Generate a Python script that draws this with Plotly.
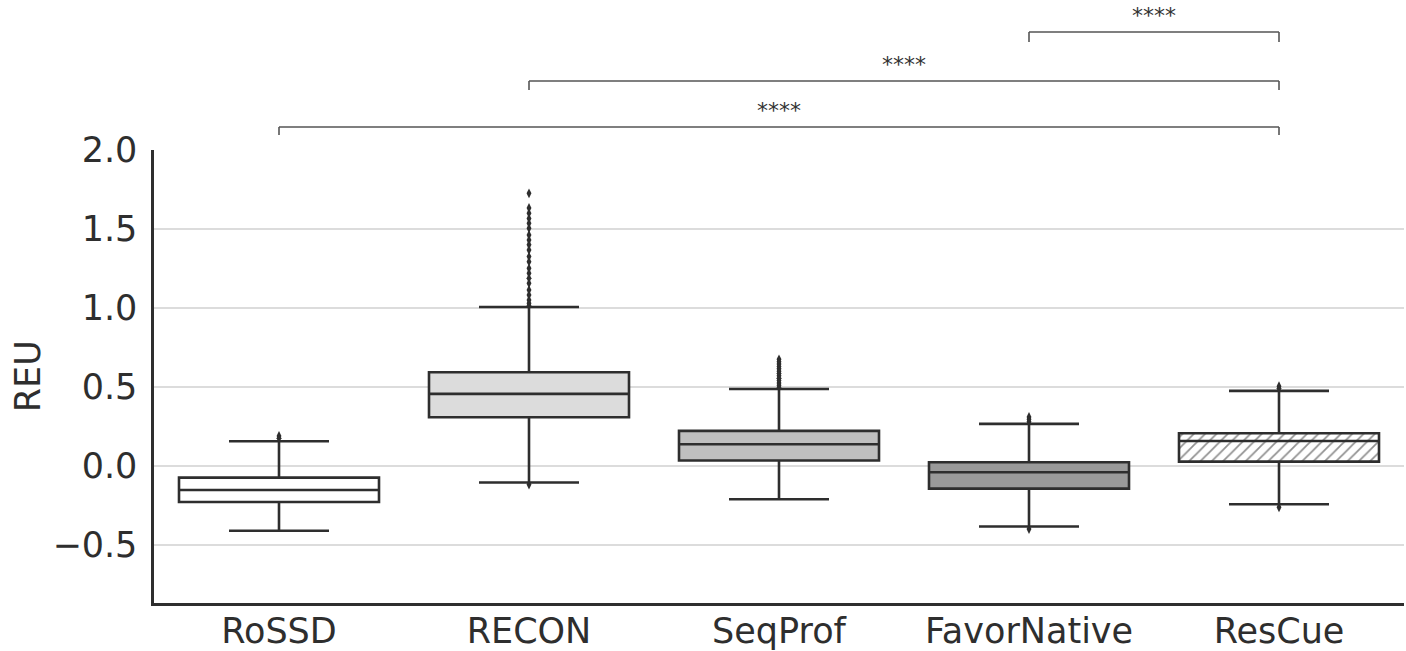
import plotly.graph_objects as go

# ---------------- data ----------------
categories = ["RoSSD", "RECON", "SeqProf", "FavorNative", "ResCue"]
q1 = [-0.229, 0.308, 0.034, -0.144, 0.027]
median = [-0.153, 0.456, 0.137, -0.040, 0.158]
q3 = [-0.074, 0.593, 0.222, 0.023, 0.207]
lower_whisker = [-0.411, -0.105, -0.211, -0.384, -0.243]
upper_whisker = [0.156, 1.006, 0.487, 0.266, 0.475]

outliers = {
    "RoSSD": [0.19, 0.175],
    "RECON": [1.726, 1.633, 1.60, 1.567, 1.536, 1.504, 1.462, 1.43, 1.40, 1.367,
              1.325, 1.293, 1.251, 1.22, 1.188, 1.156, 1.114, 1.082, 1.05, 1.03,
              1.015, -0.118],
    "SeqProf": [0.675, 0.66, 0.645, 0.63, 0.615, 0.60, 0.585, 0.57, 0.555,
                0.54, 0.525, 0.51, 0.497],
    "FavorNative": [0.31, 0.295, 0.28, -0.40],
    "ResCue": [0.505, 0.49, -0.262],
}

# significance pairs (from, to, label)
sig_pairs = [("RoSSD", "ResCue", "****"),
             ("RECON", "ResCue", "****"),
             ("FavorNative", "ResCue", "****")]

fill_colors = ["#ffffff", "#dcdcdc", "#bfbfbf", "#9a9a9a", "rgba(0,0,0,0)"]

# ---------------- figure ----------------
LINE = "#2e2e2e"
TXT = "#2e2e2e"
FONT = "DejaVu Sans"

fig = go.Figure()

# hatch for ResCue box
idx = categories.index("ResCue")
fig.add_trace(go.Bar(
    x=[categories[idx]], base=[q1[idx]], y=[q3[idx] - q1[idx]], width=0.8,
    marker=dict(color="white", line=dict(width=0),
                pattern=dict(shape="/", fgcolor="#222222", bgcolor="white",
                             size=8, solidity=0.22)),
    showlegend=False, hoverinfo="skip"))

for i, c in enumerate(categories):
    fig.add_trace(go.Box(
        x=[c], q1=[q1[i]], median=[median[i]], q3=[q3[i]],
        lowerfence=[lower_whisker[i]], upperfence=[upper_whisker[i]],
        width=0.8, whiskerwidth=0.5, boxpoints=False,
        fillcolor=fill_colors[i], line=dict(color=LINE, width=2.6),
        showlegend=False))

for c in categories:
    ys = outliers[c]
    fig.add_trace(go.Scatter(
        x=[c] * len(ys), y=ys, mode="markers",
        marker=dict(symbol="diamond-tall", size=7, color="#2e2e2e",
                    line=dict(width=0)),
        showlegend=False, cliponaxis=False))

# plot area spans y 150..603 on the page (body margin removed below)
TOP, BOTTOM_PX = 150, 603
H = BOTTOM_PX - TOP


def paper_y(py):
    return (BOTTOM_PX - py) / H


bracket_px = [(127, 135), (81, 90), (32, 42)]
for (a, b, lab), (ly, ty) in zip(sig_pairs, bracket_px):
    y_line = paper_y(ly)
    y_tick = paper_y(ty)
    for x0, y0, x1, y1 in [(a, y_tick, a, y_line), (a, y_line, b, y_line),
                           (b, y_line, b, y_tick)]:
        fig.add_shape(type="line", xref="x", yref="paper",
                      x0=x0, x1=x1, y0=y0, y1=y1,
                      line=dict(color="#555555", width=1.6))
    ia, ib = categories.index(a), categories.index(b)
    fig.add_annotation(x=(ia + ib) / 2, xref="x", y=y_line, yref="paper",
                       text=lab, showarrow=False, yanchor="bottom",
                       yshift=2, font=dict(family=FONT, size=22, color="#333333"))

fig.add_annotation(x=-0.101, xref="paper", y=0.50, yref="paper", text="REU",
                   textangle=-90, showarrow=False, xanchor="center",
                   yanchor="middle", font=dict(family=FONT, size=35, color=TXT))

fig.update_layout(
    width=1406, height=651,
    margin=dict(l=154, r=2, t=150, b=48),
    paper_bgcolor="white", plot_bgcolor="white",
    font=dict(family=FONT, color=TXT),
    boxmode="overlay", barmode="overlay",
    showlegend=False,
    xaxis=dict(type="category", categoryorder="array", categoryarray=categories,
               range=[-0.5, 4.5], showline=True, linecolor=LINE, linewidth=2.6,
               showgrid=False, ticks="", automargin=False, ticklabelstandoff=-5,
               tickfont=dict(size=35, color=TXT)),
    yaxis=dict(range=[-0.868, 2.0], tickvals=[-0.5, 0, 0.5, 1.0, 1.5, 2.0],
               tickformat=".1f", showline=True, linecolor=LINE, linewidth=2.6,
               showgrid=True, gridcolor="#dcdcdc", gridwidth=1.6,
               zeroline=False, ticks="outside", ticklen=7, automargin=False,
               tickcolor="rgba(0,0,0,0)", tickfont=dict(size=35, color=TXT)),
)

fig.write_html(
    "out.html",
    config={"displayModeBar": False, "staticPlot": True},
    post_script="document.body.style.margin='0';"
                "document.body.style.overflow='hidden';",
)
